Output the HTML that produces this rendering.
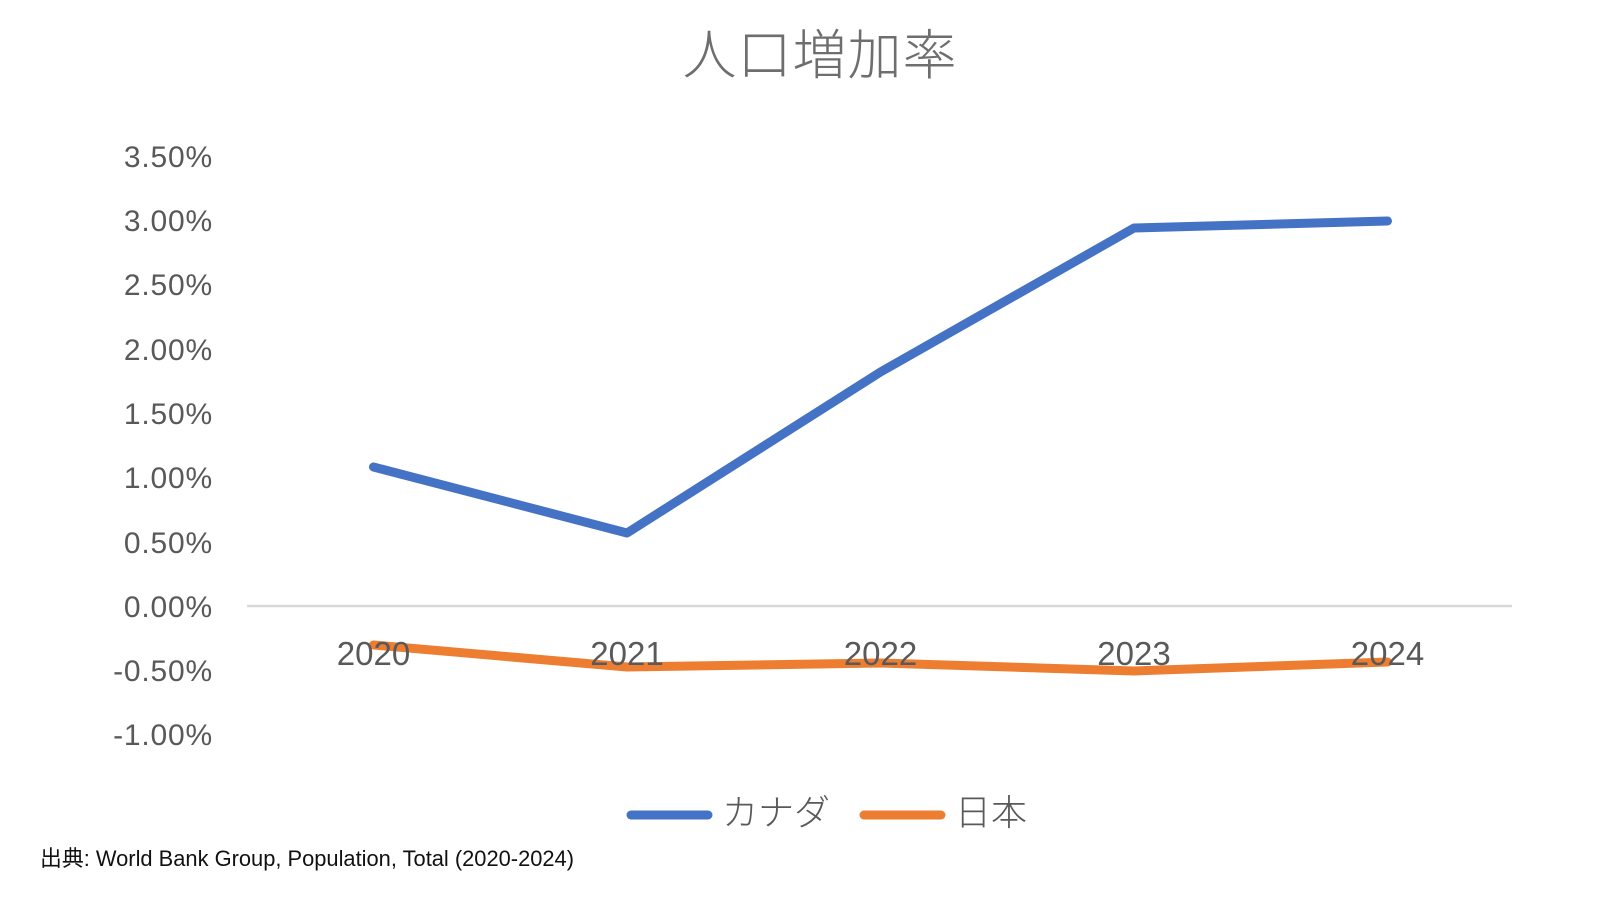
<!DOCTYPE html>
<html lang="ja">
<head>
<meta charset="utf-8">
<style>
  html, body { margin:0; padding:0; background:#fff; }
  svg { display:block; }
</style>
</head>
<body>
<svg width="1600" height="900" viewBox="0 0 1600 900" xmlns="http://www.w3.org/2000/svg">
  <rect width="1600" height="900" fill="#fff"/>
  <!-- Title -->
  <text x="820" y="74" text-anchor="middle" font-family="'Liberation Sans','Noto Sans CJK JP',sans-serif" font-size="54" font-weight="300" fill="#6e6e6e" letter-spacing="1">人口増加率</text>

  <!-- Y axis labels -->
  <g font-family="'Liberation Sans','Noto Sans CJK JP',sans-serif" font-size="30" fill="#595959" text-anchor="end" letter-spacing="0.8">
    <text x="213" y="167">3.50%</text>
    <text x="213" y="231">3.00%</text>
    <text x="213" y="295">2.50%</text>
    <text x="213" y="360">2.00%</text>
    <text x="213" y="424">1.50%</text>
    <text x="213" y="488">1.00%</text>
    <text x="213" y="553">0.50%</text>
    <text x="213" y="617">0.00%</text>
    <text x="213" y="681">-0.50%</text>
    <text x="213" y="745">-1.00%</text>
  </g>

  <!-- Zero axis line -->
  <line x1="247" y1="606" x2="1512" y2="606" stroke="#d9d9d9" stroke-width="2.5"/>

  <!-- Series -->
  <polyline points="373.5,467 627,533 880.5,372 1134,228 1387.5,221" fill="none" stroke="#4472c4" stroke-width="9" stroke-linecap="round" stroke-linejoin="round"/>
  <polyline points="373.5,645 627,667 880.5,663 1134,671 1387.5,662" fill="none" stroke="#ed7d31" stroke-width="9" stroke-linecap="round" stroke-linejoin="round"/>

  <!-- Category labels -->
  <g font-family="'Liberation Sans','Noto Sans CJK JP',sans-serif" font-size="33" fill="#595959" text-anchor="middle">
    <text x="373.5" y="665">2020</text>
    <text x="627" y="665">2021</text>
    <text x="880.5" y="665">2022</text>
    <text x="1134" y="665">2023</text>
    <text x="1387.5" y="665">2024</text>
  </g>

  <!-- Legend -->
  <line x1="631" y1="815" x2="708" y2="815" stroke="#4472c4" stroke-width="9" stroke-linecap="round"/>
  <text x="722" y="825" font-family="'Liberation Sans','Noto Sans CJK JP',sans-serif" font-size="36" font-weight="300" fill="#595959">カナダ</text>
  <line x1="864" y1="815" x2="941" y2="815" stroke="#ed7d31" stroke-width="9" stroke-linecap="round"/>
  <text x="955" y="825" font-family="'Liberation Sans','Noto Sans CJK JP',sans-serif" font-size="36" font-weight="300" fill="#595959">日本</text>

  <!-- Source -->
  <text x="40" y="866" font-family="'Liberation Sans','Noto Sans CJK JP',sans-serif" font-size="22" fill="#111" textLength="534" lengthAdjust="spacingAndGlyphs">出典: World Bank Group, Population, Total (2020-2024)</text>
</svg>
</body>
</html>
